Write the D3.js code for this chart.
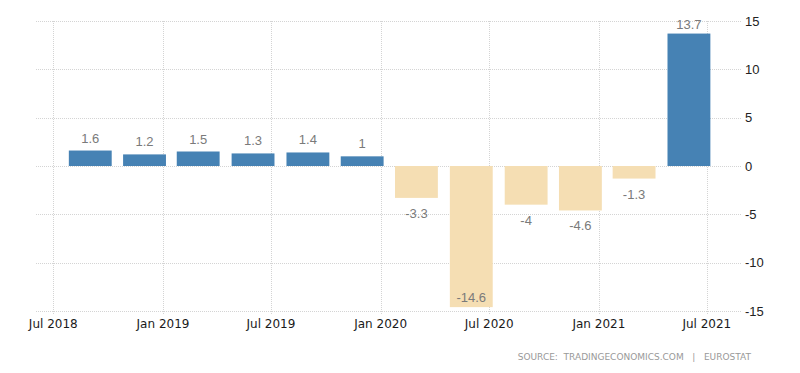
<!DOCTYPE html>
<html lang="en">
<head>
<meta charset="UTF-8">
<title>GDP growth</title>
<style>
body { margin: 0; background: #fff; }
.grid line { stroke: #d4d4d4; stroke-width: 1; stroke-dasharray: 1,1; shape-rendering: crispEdges; }
.xlab { font: 12px "DejaVu Sans", sans-serif; fill: #1a1a1a; }
.ylab { font: 13px "Liberation Sans", Arial, sans-serif; fill: #222; }
.val { font: 13px "Liberation Sans", Arial, sans-serif; fill: #7a7a7a; }
.src { font: 9px "DejaVu Sans", sans-serif; fill: #999; white-space: pre; }
</style>
</head>
<body>
<script src="https://d3js.org/d3.v7.min.js"></script>
<script>
// quarterly values, bars centred on these dates
var dates = ["2018-09-01","2018-12-01","2019-03-01","2019-06-01","2019-09-01","2019-12-01",
             "2020-03-01","2020-06-01","2020-09-01","2020-12-01","2021-03-01","2021-06-01"];
var values = [1.6, 1.2, 1.5, 1.3, 1.4, 1, -3.3, -14.6, -4, -4.6, -1.3, 13.7];
var yTicks = [15, 10, 5, 0, -5, -10, -15];
var xTicks = ["2018-07-01","2019-01-01","2019-07-01","2020-01-01","2020-07-01","2021-01-01","2021-07-01"];

var width = 800, height = 373;
var parse = d3.utcParse("%Y-%m-%d");

var svg = d3.select("body").append("svg")
    .attr("width", width)
    .attr("height", height);

var x = d3.scaleUtc()
    .domain([parse("2018-06-02"), parse("2021-08-29")])
    .range([36, 742]);

var y = d3.scaleLinear()
    .domain([-15, 15])
    .range([311, 21]);

var grid = svg.append("g").attr("class", "grid");

grid.selectAll(".h")
  .data(yTicks)
  .enter().append("line")
    .attr("x1", 36).attr("x2", 742)
    .attr("y1", function(d) { return Math.round(y(d)) + 0.5; })
    .attr("y2", function(d) { return Math.round(y(d)) + 0.5; });

grid.selectAll(".v")
  .data(xTicks)
  .enter().append("line")
    .attr("x1", function(d) { return Math.round(x(parse(d))) + 0.5; })
    .attr("x2", function(d) { return Math.round(x(parse(d))) + 0.5; })
    .attr("y1", 21).attr("y2", 315);

var step = x(parse(dates[1])) - x(parse(dates[0]));
var bw = step * 0.79;

svg.append("g").selectAll("rect")
  .data(values)
  .enter().append("rect")
    .attr("x", function(d, i) { return x(parse(dates[i])) - bw / 2; })
    .attr("width", bw)
    .attr("y", function(d) { return y(Math.max(0, d)); })
    .attr("height", function(d) { return Math.abs(y(d) - y(0)); })
    .attr("fill", function(d) { return d >= 0 ? "#4682b4" : "#f5deb3"; });

svg.append("g").selectAll("text")
  .data(values)
  .enter().append("text")
    .attr("class", "val")
    .attr("text-anchor", "middle")
    .attr("x", function(d, i) { return x(parse(dates[i])); })
    .attr("y", function(d) {
      if (d >= 0) return Math.max(y(d) - 8, 29);
      return Math.min(y(d) + 20, 302);
    })
    .text(function(d) { return d; });

svg.append("g").selectAll("text")
  .data(xTicks)
  .enter().append("text")
    .attr("class", "xlab")
    .attr("text-anchor", "middle")
    .attr("x", function(d) { return x(parse(d)); })
    .attr("y", 328)
    .text(function(d) { return d3.utcFormat("%b %Y")(parse(d)); });

svg.append("g").selectAll("text")
  .data(yTicks)
  .enter().append("text")
    .attr("class", "ylab")
    .attr("x", 745)
    .attr("y", function(d) { return y(d) + 4.5; })
    .text(function(d) { return d; });

svg.append("text")
    .attr("class", "src")
    .attr("text-anchor", "end")
    .attr("x", 751)
    .attr("y", 360)
    .text("SOURCE:  TRADINGECONOMICS.COM   |   EUROSTAT");
</script>
</body>
</html>
